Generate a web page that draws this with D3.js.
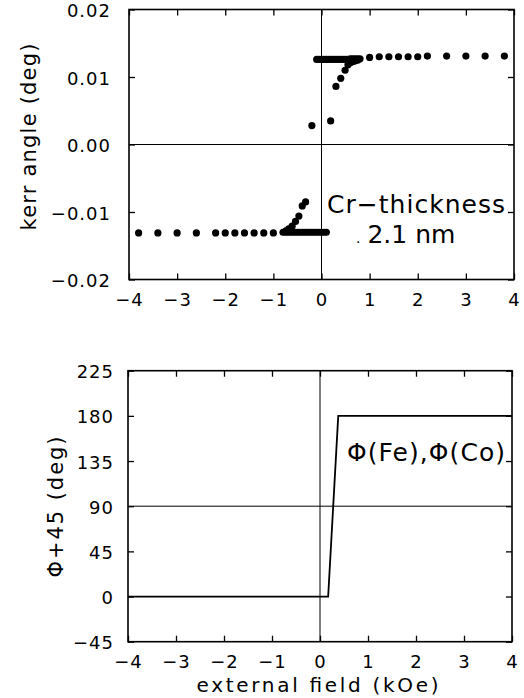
<!DOCTYPE html>
<html>
<head>
<meta charset="utf-8">
<script src="https://cdn.jsdelivr.net/npm/d3@7"></script>
<style>
  html, body { margin: 0; padding: 0; background: #fff; }
  svg { display: block; }
  text { font-family: "DejaVu Sans", sans-serif; fill: #000; }
</style>
</head>
<body>
<svg id="chart" width="524" height="698"></svg>
<script>
// Kerr rotation, field swept down from +3.8 kOe (kOe, deg)
const fieldDown = [3.8, 3.4, 3.0, 2.6, 2.2, 2.0, 1.8, 1.6, 1.4, 1.2, 1.0,
  0.80, 0.75, 0.70, 0.65, 0.60, 0.55, 0.50, 0.45, 0.40, 0.35, 0.30, 0.25, 0.20, 0.15, 0.10, 0.05, 0.00, -0.05, -0.10,
  -0.20, -0.33, -0.40, -0.47, -0.54, -0.61, -0.68, -0.74];
const kerrDown = [0.0131, 0.0131, 0.0131, 0.0131, 0.0131, 0.0130, 0.0130, 0.0130, 0.0130, 0.0130, 0.0129,
  0.0127, 0.0127, 0.0127, 0.0127, 0.0127, 0.0126, 0.0126, 0.0126, 0.0126, 0.0126, 0.0126, 0.0126, 0.0126, 0.0126, 0.0126, 0.0126, 0.0126, 0.0126, 0.0126,
  0.0028, -0.0085, -0.0091, -0.0106, -0.0114, -0.0121, -0.0125, -0.0128];

// Kerr rotation, field swept up from -3.8 kOe
const fieldUp = [-3.8, -3.4, -3.0, -2.6, -2.2, -2.0, -1.8, -1.6, -1.4, -1.2, -1.0,
  -0.80, -0.75, -0.70, -0.65, -0.60, -0.55, -0.50, -0.45, -0.40, -0.35, -0.30, -0.25, -0.20, -0.15, -0.10, -0.05, 0.00, 0.05, 0.10,
  0.19, 0.30, 0.40, 0.49, 0.55, 0.60, 0.65, 0.70, 0.75];
const kerrUp = [-0.0131, -0.0131, -0.0131, -0.0131, -0.0131, -0.0131, -0.0131, -0.0131, -0.0131, -0.0131, -0.0131,
  -0.0130, -0.0130, -0.0130, -0.0130, -0.0130, -0.0130, -0.0130, -0.0130, -0.0130, -0.0130, -0.0130, -0.0130, -0.0130, -0.0130, -0.0130, -0.0130, -0.0130, -0.0130, -0.0130,
  0.0035, 0.0086, 0.0098, 0.0110, 0.0118, 0.0121, 0.0123, 0.0124, 0.0125];

// Magnetisation angle of the Fe and Co layers (Phi + 45, deg)
const phiField = [-4, 0.17, 0.38, 4];
const phiAngle = [0, 0, 180, 180];

// Axis ticks
const fieldTicks = [-4, -3, -2, -1, 0, 1, 2, 3, 4];
const kerrTicks = [-0.02, -0.01, 0.00, 0.01, 0.02];
const phiTicks = [-45, 0, 45, 90, 135, 180, 225];

const svg = d3.select("#chart");

function styleAxis(g) {
  g.select(".domain").remove();
  g.selectAll(".tick line").attr("stroke", "#000").attr("stroke-width", 1.3);
  g.selectAll("text")
    .attr("font-family", "DejaVu Sans, sans-serif")
    .attr("font-size", 18)
    .attr("letter-spacing", "1px")
    .attr("fill", "#000");
}

function drawFrame(x, y, yTicks, yFmt, yPad, refY) {
  const [x0, x1] = x.range();
  const [yb, yt] = y.range();
  const g = svg.append("g");

  g.append("g").attr("transform", `translate(0,${yb})`)
    .call(d3.axisBottom(x).tickValues(fieldTicks).tickSize(-6).tickFormat(d3.format("d")))
    .call(styleAxis)
    .call(a => a.selectAll("text").attr("y", 26).attr("dy", 0));

  g.append("g").attr("transform", `translate(0,${yt})`)
    .call(d3.axisTop(x).tickValues(fieldTicks).tickSize(-6).tickFormat(""))
    .call(styleAxis);

  g.append("g").attr("transform", `translate(${x0},0)`)
    .call(d3.axisLeft(y).tickValues(yTicks).tickSize(-6).tickPadding(yPad).tickFormat(yFmt))
    .call(styleAxis)
    .call(a => a.selectAll("text").attr("dy", 0).attr("y", 7));

  g.append("g").attr("transform", `translate(${x1},0)`)
    .call(d3.axisRight(y).tickValues(yTicks).tickSize(-6).tickFormat(""))
    .call(styleAxis);

  // reference lines through zero field and the chosen level
  g.append("line").attr("x1", x(0)).attr("x2", x(0)).attr("y1", yt).attr("y2", yb)
    .attr("stroke", "#000").attr("stroke-width", 1);
  g.append("line").attr("x1", x0).attr("x2", x1).attr("y1", y(refY)).attr("y2", y(refY))
    .attr("stroke", "#000").attr("stroke-width", 1);

  g.append("rect").attr("x", x0).attr("y", yt).attr("width", x1 - x0).attr("height", yb - yt)
    .attr("fill", "none").attr("stroke", "#000").attr("stroke-width", 1.6);
  return g;
}

// ---------- upper panel: Kerr loop ----------
const xTop = d3.scaleLinear().domain([-4, 4]).range([129, 514]);
const yTop = d3.scaleLinear().domain([-0.02, 0.02]).range([279.5, 9.5]);
drawFrame(xTop, yTop, kerrTicks, d3.format(".2f"), 18, 0);

const kerrPoints = fieldDown.map((f, i) => [f, kerrDown[i]])
  .concat(fieldUp.map((f, i) => [f, kerrUp[i]]));
svg.append("g").selectAll("circle").data(kerrPoints).join("circle")
  .attr("cx", d => xTop(d[0])).attr("cy", d => yTop(d[1])).attr("r", 3.6).attr("fill", "#000");

svg.append("text").attr("x", 327).attr("y", 213).attr("font-size", 25)
  .attr("textLength", 178).attr("lengthAdjust", "spacing").text("Cr\u2212thickness");
const thick = svg.append("text").attr("x", 356).attr("y", 243).attr("font-size", 25);
thick.append("tspan").attr("font-size", 14).text(".");
thick.append("tspan").attr("dx", 7).text("2.1 nm");

svg.append("text")
  .attr("transform", "translate(36,137) rotate(-90)")
  .attr("text-anchor", "middle").attr("font-size", 21)
  .attr("textLength", 187).attr("lengthAdjust", "spacing")
  .text("kerr angle (deg)");

// ---------- lower panel: layer magnetisation angle ----------
const xBot = d3.scaleLinear().domain([-4, 4]).range([128, 512]);
const yBot = d3.scaleLinear().domain([-45, 225]).range([641.7, 370.7]);
drawFrame(xBot, yBot, phiTicks, d3.format("d"), 14, 90);

const phiLine = d3.line().x(d => xBot(d[0])).y(d => yBot(d[1]));
svg.append("path")
  .datum(phiField.map((f, i) => [f, phiAngle[i]]))
  .attr("d", phiLine).attr("fill", "none").attr("stroke", "#000").attr("stroke-width", 1.8);

svg.append("text").attr("x", 347).attr("y", 461).attr("font-size", 25)
  .attr("textLength", 158).attr("lengthAdjust", "spacing").text("\u03A6(Fe),\u03A6(Co)");

svg.append("text")
  .attr("transform", "translate(63,507) rotate(-90)")
  .attr("text-anchor", "middle").attr("font-size", 21)
  .attr("textLength", 141).attr("lengthAdjust", "spacing")
  .text("\u03A6+45 (deg)");

svg.append("text")
  .attr("x", 317.5).attr("y", 692)
  .attr("text-anchor", "middle").attr("font-size", 20)
  .attr("textLength", 242).attr("lengthAdjust", "spacing")
  .text("external field (kOe)");
</script>
</body>
</html>
